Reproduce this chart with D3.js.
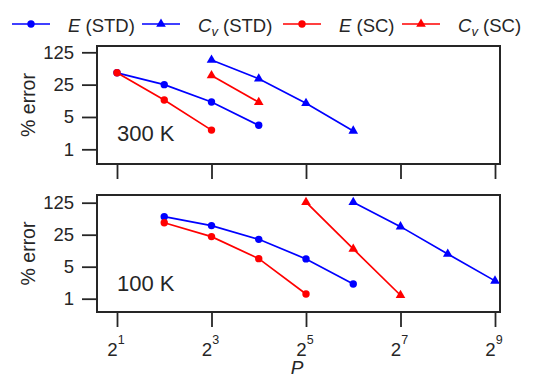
<!DOCTYPE html>
<html>
<head>
  <meta charset="utf-8">
  <title>% error vs P</title>
  <script src="https://d3js.org/d3.v7.min.js"></script>
  <style>
    body { margin: 0; background: #fff; }
    text { font-family: "Liberation Sans", Arial, sans-serif; fill: #262626; }
  </style>
</head>
<body>
<script>
  // data
  var xTicks = [2, 8, 32, 128, 512];
  var xTickExp = ["1", "3", "5", "7", "9"];
  var yTicks = [1, 5, 25, 125];
  var yTickLabels = ["1", "5", "25", "125"];
  var seriesNames = ["E (STD)", "Cv (STD)", "E (SC)", "Cv (SC)"];
  var panelLabels = ["300 K", "100 K"];

  // 300 K
  var p300_E_STD_x = [2, 4, 8, 16];
  var p300_E_STD_y = [45, 25, 10.5, 3.3];
  var p300_Cv_STD_x = [8, 16, 32, 64];
  var p300_Cv_STD_y = [85, 33.5, 9.9, 2.5];
  var p300_E_SC_x = [2, 4, 8];
  var p300_E_SC_y = [45, 11.6, 2.6];
  var p300_Cv_SC_x = [8, 16];
  var p300_Cv_SC_y = [39.5, 10.4];

  // 100 K
  var p100_E_STD_x = [4, 8, 16, 32, 64];
  var p100_E_STD_y = [62, 39.5, 19.8, 7.4, 2.1];
  var p100_Cv_STD_x = [64, 128, 256, 512];
  var p100_Cv_STD_y = [128, 37.5, 9.5, 2.45];
  var p100_E_SC_x = [4, 8, 16, 32];
  var p100_E_SC_y = [45.5, 22.7, 7.5, 1.27];
  var p100_Cv_SC_x = [32, 64, 128];
  var p100_Cv_SC_y = [128, 12.2, 1.19];

  var width = 535, height = 379;
  var plotLeft = 97, plotRight = 500;
  var panels = [
    { top: 46, bottom: 164, y1: 149.3, y125: 52.3, label: panelLabels[0], labelY: 141,
      series: [
        { xs: p300_E_STD_x, ys: p300_E_STD_y, color: "#0000ff", marker: "circle" },
        { xs: p300_Cv_STD_x, ys: p300_Cv_STD_y, color: "#0000ff", marker: "triangle" },
        { xs: p300_E_SC_x, ys: p300_E_SC_y, color: "#ff0000", marker: "circle" },
        { xs: p300_Cv_SC_x, ys: p300_Cv_SC_y, color: "#ff0000", marker: "triangle" }
      ] },
    { top: 195, bottom: 312, y1: 298.7, y125: 202.7, label: panelLabels[1], labelY: 291,
      series: [
        { xs: p100_E_STD_x, ys: p100_E_STD_y, color: "#0000ff", marker: "circle" },
        { xs: p100_Cv_STD_x, ys: p100_Cv_STD_y, color: "#0000ff", marker: "triangle" },
        { xs: p100_E_SC_x, ys: p100_E_SC_y, color: "#ff0000", marker: "circle" },
        { xs: p100_Cv_SC_x, ys: p100_Cv_SC_y, color: "#ff0000", marker: "triangle" }
      ] }
  ];

  var svg = d3.select("body").append("svg").attr("width", width).attr("height", height);

  var xScale = d3.scaleLog().base(2).domain([2, 512]).range([117, 495]);
  var tri = d3.symbol().type(d3.symbolTriangle).size(40);
  var ink = "#262626";

  panels.forEach(function(p) {
    var yScale = d3.scaleLog().base(5).domain([1, 125]).range([p.y1, p.y125]);
    var g = svg.append("g");

    // y axis ticks
    var yAxis = d3.axisLeft(yScale).tickValues(yTicks)
      .tickFormat(function(d, i) { return yTickLabels[i]; })
      .tickSize(15).tickPadding(8);
    var ya = g.append("g").attr("transform", "translate(" + plotLeft + ",0)").call(yAxis);
    ya.select(".domain").remove();
    ya.selectAll(".tick line").attr("stroke", ink).attr("stroke-width", 1.8);
    ya.selectAll(".tick text").attr("font-size", "18.5px").attr("fill", ink)
      .style("font-family", "'Liberation Sans', Arial, sans-serif");

    // x axis ticks
    var xAxis = d3.axisBottom(xScale).tickValues(xTicks).tickSize(15).tickFormat("");
    var xa = g.append("g").attr("transform", "translate(0," + p.bottom + ")").call(xAxis);
    xa.select(".domain").remove();
    xa.selectAll(".tick line").attr("stroke", ink).attr("stroke-width", 1.8);

    // frame
    g.append("rect")
      .attr("x", plotLeft).attr("y", p.top)
      .attr("width", plotRight - plotLeft).attr("height", p.bottom - p.top)
      .attr("fill", "none").attr("stroke", ink).attr("stroke-width", 2);

    // lines & markers
    var line = d3.line()
      .x(function(d) { return xScale(d[0]); })
      .y(function(d) { return yScale(d[1]); });

    p.series.forEach(function(s) {
      var pts = s.xs.map(function(x, i) { return [x, s.ys[i]]; });
      g.append("path").datum(pts)
        .attr("fill", "none").attr("stroke", s.color).attr("stroke-width", 1.7)
        .attr("d", line);
      if (s.marker === "circle") {
        g.selectAll(null).data(pts).enter().append("circle")
          .attr("cx", function(d) { return xScale(d[0]); })
          .attr("cy", function(d) { return yScale(d[1]); })
          .attr("r", 3.7).attr("fill", s.color);
      } else {
        g.selectAll(null).data(pts).enter().append("path")
          .attr("d", tri)
          .attr("transform", function(d) { return "translate(" + xScale(d[0]) + "," + yScale(d[1]) + ")"; })
          .attr("fill", s.color);
      }
    });

    // panel label
    g.append("text").attr("x", 117).attr("y", p.labelY)
      .attr("font-size", "22px").text(p.label);

    // y label
    var mid = (p.top + p.bottom) / 2;
    g.append("text")
      .attr("transform", "translate(35," + mid + ") rotate(-90)")
      .attr("text-anchor", "middle").attr("font-size", "19.5px").text("% error");
  });

  // x tick labels (powers of 2), below the bottom panel
  var xl = svg.append("g");
  xTicks.forEach(function(v, i) {
    var t = xl.append("text").attr("x", xScale(v) - 1).attr("y", 356)
      .attr("text-anchor", "middle").attr("font-size", "18.7px");
    t.append("tspan").text("2");
    t.append("tspan").attr("dy", -12).attr("font-size", "12.5px").text(xTickExp[i]);
  });
  svg.append("text").attr("x", 297).attr("y", 374).attr("text-anchor", "middle")
    .attr("font-size", "19px").attr("font-style", "italic").text("P");

  // legend
  var legendItems = [
    { x: 12, color: "#0000ff", marker: "circle", name: seriesNames[0] },
    { x: 142, color: "#0000ff", marker: "triangle", name: seriesNames[1] },
    { x: 283, color: "#ff0000", marker: "circle", name: seriesNames[2] },
    { x: 402, color: "#ff0000", marker: "triangle", name: seriesNames[3] }
  ];
  var lg = svg.append("g");
  legendItems.forEach(function(it) {
    var ly = 24;
    lg.append("line").attr("x1", it.x).attr("x2", it.x + 38).attr("y1", ly).attr("y2", ly)
      .attr("stroke", it.color).attr("stroke-width", 1.7);
    if (it.marker === "circle") {
      lg.append("circle").attr("cx", it.x + 19).attr("cy", ly).attr("r", 3.7).attr("fill", it.color);
    } else {
      lg.append("path").attr("d", tri).attr("transform", "translate(" + (it.x + 19) + "," + ly + ")")
        .attr("fill", it.color);
    }
    var t = lg.append("text").attr("x", it.x + 56).attr("y", ly + 8).attr("font-size", "18.5px");
    var parts = it.name.split(" ");
    if (parts[0] === "Cv") {
      t.append("tspan").attr("font-style", "italic").text("C");
      t.append("tspan").attr("font-style", "italic").attr("font-size", "13px").attr("dy", 4).text("v");
      t.append("tspan").attr("dy", -4).text(" " + parts[1]);
    } else {
      t.append("tspan").attr("font-style", "italic").text("E");
      t.append("tspan").text(" " + parts[1]);
    }
  });
</script>
</body>
</html>
